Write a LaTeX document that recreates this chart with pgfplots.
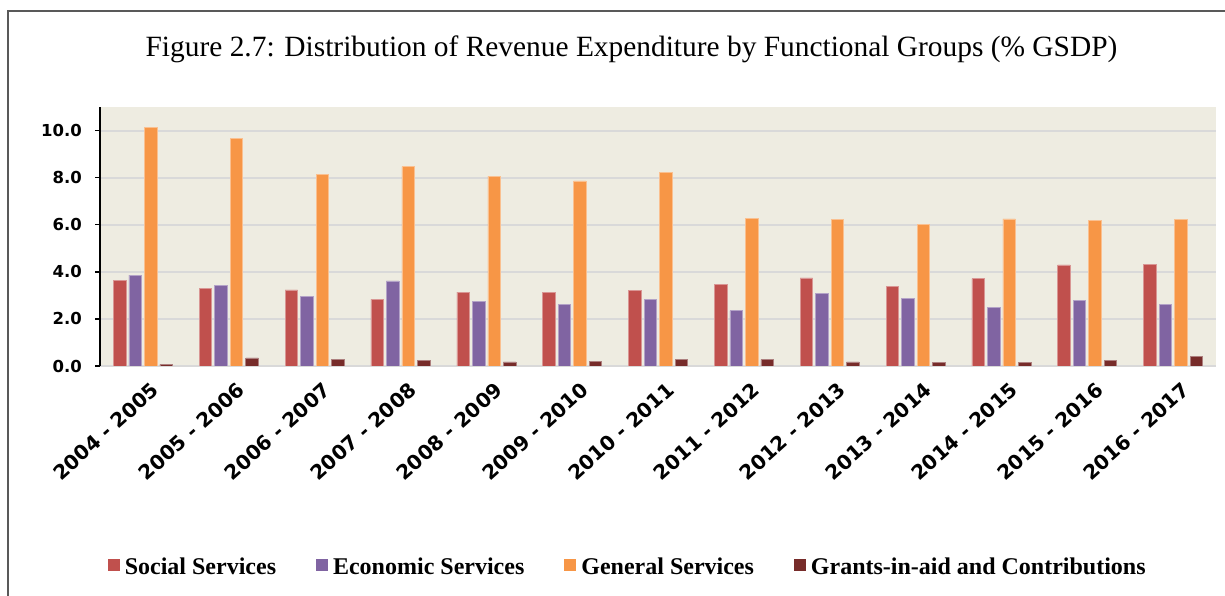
\documentclass[border=0pt]{standalone}
\usepackage{fontspec}
\setmainfont{Liberation Serif}
\newfontfamily\tickfont{DejaVu Sans}
\usepackage{pgfplots}
\pgfplotsset{compat=1.18}
\definecolor{cSoc}{HTML}{C0504D}
\definecolor{cEco}{HTML}{8064A2}
\definecolor{cGen}{HTML}{F79646}
\definecolor{cGra}{HTML}{772C2A}
\definecolor{bgc}{HTML}{EEECE1}
\definecolor{gridc}{HTML}{D9D9D9}
\definecolor{framec}{HTML}{595959}
\begin{document}
\begin{tikzpicture}[x=1pt,y=1pt]
\begin{axis}[
  at={(100pt,230pt)}, anchor=south west,
  scale only axis, width=1116pt, height=259pt,
  xmin=-0.5, xmax=12.5, ymin=0, ymax=11,
  ybar=3pt, bar width=12.5pt,
  axis background/.style={fill=bgc},
  ymajorgrids, grid style={draw=gridc, line width=2pt},
  axis x line*=bottom, axis y line*=left,
  x axis line style={draw=gridc, line width=2pt, -},
  y axis line style={draw=black, line width=1.5pt, -},
  xtick={0,...,12},
  xticklabels={2004 - 2005,2005 - 2006,2006 - 2007,2007 - 2008,2008 - 2009,2009 - 2010,2010 - 2011,2011 - 2012,2012 - 2013,2013 - 2014,2014 - 2015,2015 - 2016,2016 - 2017},
  xtick style={draw=none},
  ytick={0,2,...,10},
  yticklabels={0.0,2.0,4.0,6.0,8.0,10.0},
  ytick style={draw=black, line width=1.5pt},
  tick align=outside, major tick length=5pt,
  yticklabel style={font=\tickfont\bfseries\fontsize{16.5}{18}\selectfont, anchor=east, inner sep=0pt, xshift=-13pt},
  xticklabel style={font=\tickfont\bfseries\fontsize{20}{22}\selectfont, rotate=42, anchor=east, inner sep=0pt, yshift=-20pt, xshift=-1pt},
  legend style={at={(0.472,-0.776)}, anchor=center, draw=none, fill=none,
    legend columns=4, font=\bfseries\fontsize{24}{28}\selectfont,
    /tikz/every odd column/.append style={column sep=5pt},
    /tikz/every even column/.append style={column sep=40pt},
    nodes={inner sep=0pt}},
  legend image code/.code={\path[#1,draw=none] (0pt,-4pt) rectangle (12pt,8pt);},
]
\addplot[fill=cSoc, draw=cSoc!60!white, line width=0.6pt] coordinates {(0,3.65)(1,3.31)(2,3.23)(3,2.83)(4,3.14)(5,3.14)(6,3.21)(7,3.47)(8,3.74)(9,3.37)(10,3.71)(11,4.29)(12,4.33)};
\addplot[fill=cEco, draw=cEco!60!white, line width=0.6pt] coordinates {(0,3.86)(1,3.41)(2,2.96)(3,3.61)(4,2.73)(5,2.63)(6,2.83)(7,2.35)(8,3.07)(9,2.86)(10,2.50)(11,2.80)(12,2.62)};
\addplot[fill=cGen, draw=cGen!60!white, line width=0.6pt] coordinates {(0,10.14)(1,9.66)(2,8.13)(3,8.47)(4,8.05)(5,7.86)(6,8.21)(7,6.28)(8,6.22)(9,6.02)(10,6.25)(11,6.19)(12,6.21)};
\addplot[fill=cGra, draw=cGra!60!white, line width=0.6pt] coordinates {(0,0.07)(1,0.34)(2,0.27)(3,0.24)(4,0.17)(5,0.21)(6,0.29)(7,0.27)(8,0.17)(9,0.14)(10,0.15)(11,0.24)(12,0.40)};
\legend{Social Services,Economic Services,General Services,Grants-in-aid and Contributions}
\end{axis}
\node[font=\fontsize{29.4}{33}\selectfont, anchor=base, inner sep=0pt] at (631.5,539) {Figure 2.7: Distribution of Revenue Expenditure by Functional Groups (\% GSDP)};
\draw[framec, line width=2pt] (7.5,-5) -- (7.5,585) -- (1230,585);
\pgfresetboundingbox
\useasboundingbox (0,0) rectangle (1225,596);
\end{tikzpicture}
\end{document}
